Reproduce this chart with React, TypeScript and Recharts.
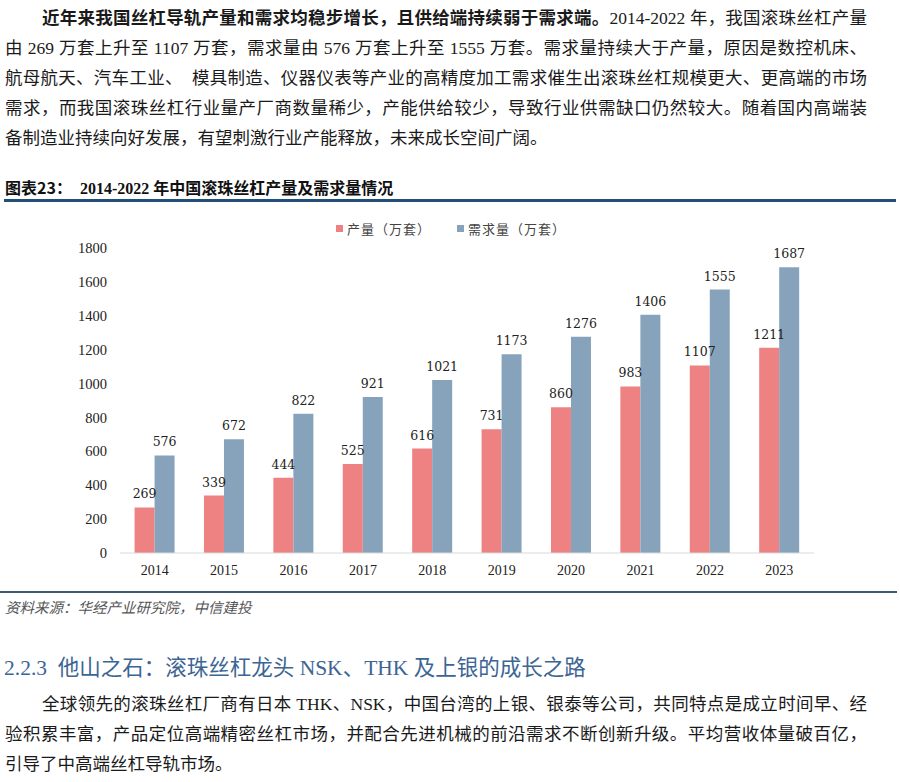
import React from 'react';
import { BarChart, Bar, XAxis, YAxis, LabelList } from 'recharts';

// 年份与两组数据（万套）
const years = ['2014', '2015', '2016', '2017', '2018', '2019', '2020', '2021', '2022', '2023'];
const output = [269, 339, 444, 525, 616, 731, 860, 983, 1107, 1211];
const demand = [576, 672, 822, 921, 1021, 1173, 1276, 1406, 1555, 1687];
const yTicks = [0, 200, 400, 600, 800, 1000, 1200, 1400, 1600, 1800];

const seriesNames = ['产量（万套）', '需求量（万套）'];
const seriesColors = ['#EE8282', '#87A3BC'];

const chartData = years.map((year, i) => ({ year, output: output[i], demand: demand[i] }));

const serif = '"Liberation Serif", "Noto Sans CJK SC", serif';
const sans = '"Noto Sans CJK SC", sans-serif';

// 上方段落，逐行排版
const topLines: React.ReactNode[] = [
  <>
    <b>近年来我国丝杠导轨产量和需求均稳步增长，且供给端持续弱于需求端。</b>2014-2022 年，我国滚珠丝杠产量
  </>,
  '由 269 万套上升至 1107 万套，需求量由 576 万套上升至 1555 万套。需求量持续大于产量，原因是数控机床、',
  '航母航天、汽车工业、  模具制造、仪器仪表等产业的高精度加工需求催生出滚珠丝杠规模更大、更高端的市场',
  '需求，而我国滚珠丝杠行业量产厂商数量稀少，产能供给较少，导致行业供需缺口仍然较大。随着国内高端装',
  '备制造业持续向好发展，有望刺激行业产能释放，未来成长空间广阔。',
];

const bottomLines: React.ReactNode[] = [
  '全球领先的滚珠丝杠厂商有日本 THK、NSK，中国台湾的上银、银泰等公司，共同特点是成立时间早、经',
  '验积累丰富，产品定位高端精密丝杠市场，并配合先进机械的前沿需求不断创新升级。平均营收体量破百亿，',
  '引导了中高端丝杠导轨市场。',
];

function Paragraph({ lines, top }: { lines: React.ReactNode[]; top: number }) {
  return (
    <div style={{ position: 'absolute', left: 5, top, width: 862, fontFamily: serif, fontSize: 17.5, color: '#1a1a1a' }}>
      {lines.map((line, i) => (
        <div
          key={i}
          style={{
            height: 30,
            lineHeight: '30px',
            whiteSpace: 'pre',
            textIndent: i === 0 ? 37 : 0,
            textAlign: 'justify',
            textAlignLast: i === lines.length - 1 ? 'left' : 'justify',
          }}
        >
          {line}
        </div>
      ))}
    </div>
  );
}

export default function App() {
  return (
    <div style={{ position: 'absolute', left: 0, top: 0, width: 900, height: 782, background: '#fff', overflow: 'hidden' }}>
      <Paragraph lines={topLines} top={3} />

      {/* 图表标题 */}
      <div style={{ position: 'absolute', left: 5, top: 175, fontFamily: serif, fontSize: 16, fontWeight: 'bold', color: '#111', whiteSpace: 'pre' }}>
        <span style={{ fontFamily: sans }}>图表23：</span>  2014-2022 年中国滚珠丝杠产量及需求量情况
      </div>
      <div style={{ position: 'absolute', left: 4, top: 199, width: 892, height: 3, background: '#234E78' }} />

      {/* 图例 */}
      <div style={{ position: 'absolute', left: 0, top: 219, width: 902, display: 'flex', justifyContent: 'center', gap: 26, fontFamily: sans, fontSize: 13, color: '#444', letterSpacing: 1 }}>
        {seriesNames.map((name, i) => (
          <div key={name} style={{ display: 'flex', alignItems: 'center' }}>
            <div style={{ width: 7, height: 7, background: seriesColors[i], marginRight: 4 }} />
            <span>{name}</span>
          </div>
        ))}
      </div>

      <div style={{ position: 'absolute', left: 0, top: 205 }}>
        <BarChart
          width={900}
          height={385}
          data={chartData}
          margin={{ top: 43, right: 86, bottom: 2, left: 60 }}
          barCategoryGap="21%"
          barGap={0}
        >
          <XAxis
            dataKey="year"
            height={35}
            axisLine={{ stroke: '#d9d9d9' }}
            tickLine={false}
            tickMargin={6}
            tick={{ fontFamily: serif, fontSize: 14, fill: '#222' }}
          />
          <YAxis
            width={60}
            domain={[0, 1800]}
            ticks={yTicks}
            axisLine={false}
            tickLine={false}
            tickMargin={7}
            tick={{ fontFamily: serif, fontSize: 14.5, fill: '#222' }}
          />
          <Bar dataKey="output" name={seriesNames[0]} fill={seriesColors[0]} isAnimationActive={false}>
            <LabelList dataKey="output" position="top" offset={9} style={{ fontFamily: '"DejaVu Serif", serif', fontSize: 12.5, fill: '#222' }} />
          </Bar>
          <Bar dataKey="demand" name={seriesNames[1]} fill={seriesColors[1]} isAnimationActive={false}>
            <LabelList dataKey="demand" position="top" offset={9} style={{ fontFamily: '"DejaVu Serif", serif', fontSize: 12.5, fill: '#222' }} />
          </Bar>
        </BarChart>
      </div>

      <div style={{ position: 'absolute', left: 0, top: 591, width: 897, height: 2, background: '#3D5A70' }} />
      <div style={{ position: 'absolute', left: 5, top: 596, fontFamily: sans, fontStyle: 'italic', fontSize: 14.5, color: '#555' }}>
        资料来源：华经产业研究院，中信建投
      </div>

      {/* 小节标题 */}
      <div style={{ position: 'absolute', left: 4, top: 650, fontFamily: serif, fontSize: 21.5, color: '#3C6594', whiteSpace: 'pre' }}>
        2.2.3  他山之石：滚珠丝杠龙头 NSK、THK 及上银的成长之路
      </div>

      <Paragraph lines={bottomLines} top={689} />
    </div>
  );
}
